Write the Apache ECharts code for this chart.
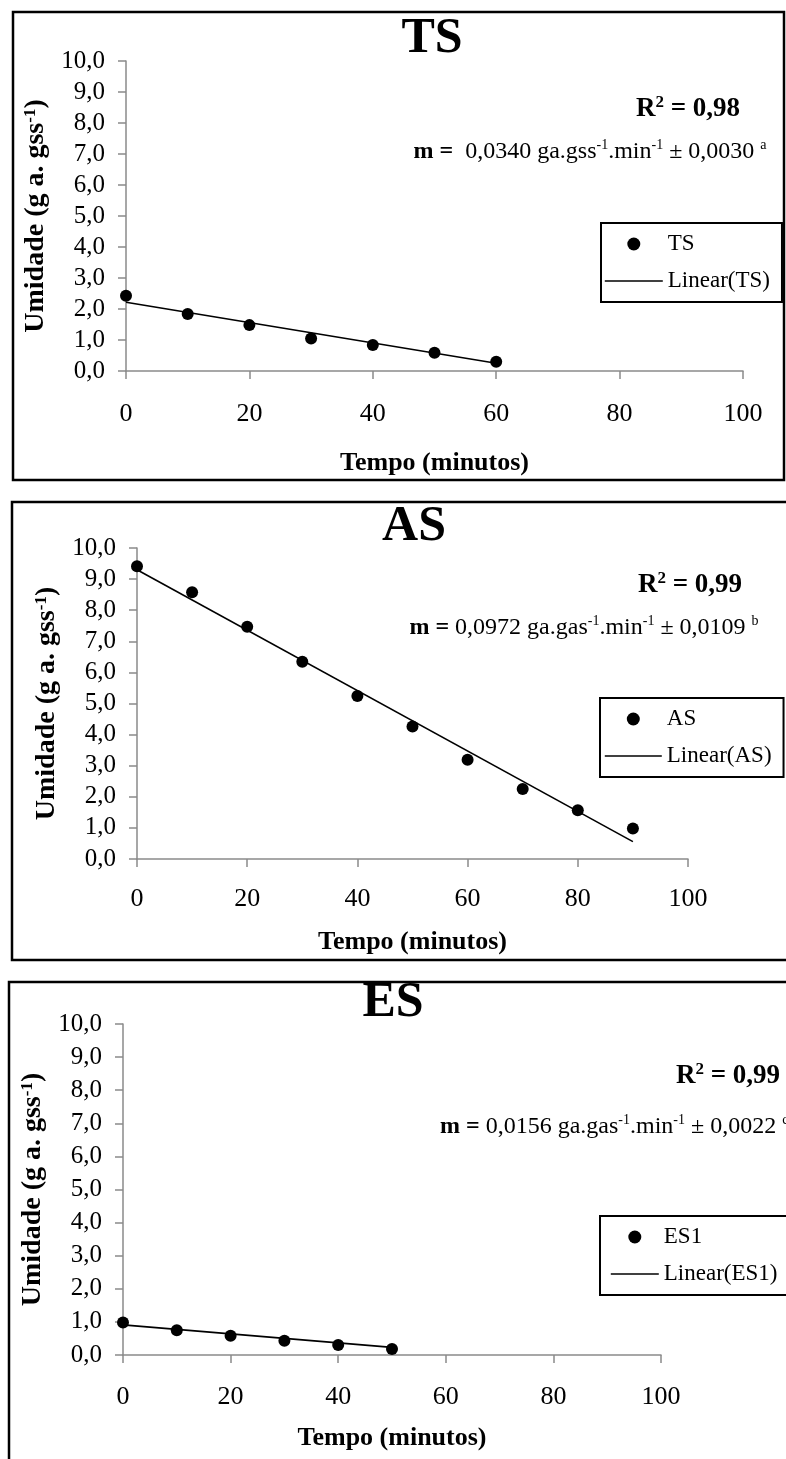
<!DOCTYPE html>
<html>
<head>
<meta charset="utf-8">
<script src="https://cdn.jsdelivr.net/npm/echarts@6/dist/echarts.min.js"></script>
<style>
html,body{margin:0;padding:0;background:#fff;}
#chart{width:786px;height:1459px;}
</style>
</head>
<body>
<div id="chart"></div>
<script>
// ---- data ----
const xTickValues = [0, 20, 40, 60, 80, 100];
const yTickLabels = ['0,0','1,0','2,0','3,0','4,0','5,0','6,0','7,0','8,0','9,0','10,0'];

const tsTime = [0, 10, 20, 30, 40, 50, 60];
const tsMoisture = [2.43, 1.84, 1.48, 1.05, 0.84, 0.59, 0.30];
const tsTrendTime = [0, 60];
const tsTrendValue = [2.22, 0.25];

const asTime = [0, 10, 20, 30, 40, 50, 60, 70, 80, 90];
const asMoisture = [9.41, 8.58, 7.47, 6.34, 5.24, 4.26, 3.19, 2.25, 1.57, 0.98];
const asTrendTime = [0, 90];
const asTrendValue = [9.30, 0.56];

const esTime = [0, 10, 20, 30, 40, 50];
const esMoisture = [0.98, 0.75, 0.58, 0.43, 0.30, 0.18];
const esTrendTime = [0, 50];
const esTrendValue = [0.91, 0.23];

const panelTitles = ['TS', 'AS', 'ES'];
const seriesNames = ['TS', 'AS', 'ES1'];
const trendNames = ['Linear(TS)', 'Linear(AS)', 'Linear(ES1)'];
const r2Texts = ['0,98', '0,99', '0,99'];
const slopeTexts = [
  { m: '0,0340', unit: 'gss', err: '0,0030', letter: 'a', gap: '  ' },
  { m: '0,0972', unit: 'gas', err: '0,0109', letter: 'b', gap: ' ' },
  { m: '0,0156', unit: 'gas', err: '0,0022', letter: 'c', gap: ' ' }
];
const xAxisName = 'Tempo (minutos)';

// ---- layout ----
const FONT = '"Liberation Serif", "Times New Roman", serif';
const AXIS_GRAY = '#8a8a8a';

const grids = [
  { left: 126, top: 61, width: 617, height: 310 },
  { left: 137, top: 548, width: 551, height: 311 },
  { left: 123, top: 1024, width: 538, height: 331 }
];
const xLabelMargin = [30, 27, 29];
const xNameGap = [79, 70, 70];
const frames = [
  { x: 13, y: 12, w: 771, h: 468 },
  { x: 12, y: 502, w: 820, h: 458 },
  { x: 9, y: 982, w: 820, h: 600 }
];
const titlePos = [[432, 39], [414, 527], [393, 1003]];
const r2Pos = [[688, 109], [690, 585], [728, 1076]];
const mPos = [[590, 152, 'center'], [584, 628, 'center'], [440, 1127, 'left']];
const legendPos = [
  { left: 601, top: 223, padL: 3, iw: 58 },
  { left: 600, top: 698, padL: 4, iw: 57 },
  { left: 600, top: 1216, padL: 10, iw: 48 }
];

const xs = [tsTime, asTime, esTime];
const ys = [tsMoisture, asMoisture, esMoisture];
const txs = [tsTrendTime, asTrendTime, esTrendTime];
const tys = [tsTrendValue, asTrendValue, esTrendValue];

const option = {
  backgroundColor: '#fff',
  animation: false,
  grid: grids.map(g => Object.assign({ containLabel: false }, g)),
  xAxis: grids.map((g, i) => ({
    gridIndex: i, type: 'value', min: 0, max: 100, interval: 20,
    axisLine: { show: true, lineStyle: { color: AXIS_GRAY, width: 1.5 } },
    axisTick: { show: true, length: 8, lineStyle: { color: AXIS_GRAY, width: 1.5 } },
    splitLine: { show: false },
    axisLabel: {
      color: '#000', fontFamily: FONT, fontSize: 26, margin: xLabelMargin[i],
      formatter: v => (xTickValues.indexOf(v) >= 0 ? String(v) : '')
    },
    name: xAxisName, nameLocation: 'middle', nameGap: xNameGap[i],
    nameTextStyle: { color: '#000', fontFamily: FONT, fontWeight: 'bold', fontSize: 26 }
  })),
  yAxis: grids.map((g, i) => ({
    gridIndex: i, type: 'value', min: 0, max: 10, interval: 1,
    axisLine: { show: true, lineStyle: { color: AXIS_GRAY, width: 1.5 } },
    axisTick: { show: true, length: 8, lineStyle: { color: AXIS_GRAY, width: 1.5 } },
    splitLine: { show: false },
    axisLabel: {
      color: '#000', fontFamily: FONT, fontSize: 25, margin: 21,
      formatter: v => yTickLabels[Math.round(v)]
    },
    name: 'Umidade (g a. gss{sup|-1})', nameLocation: 'middle', nameGap: 76,
    nameTextStyle: {
      color: '#000', fontFamily: FONT, fontWeight: 'bold', fontSize: 28, lineHeight: 28,
      rich: { sup: { color: '#000', fontFamily: FONT, fontWeight: 'bold', fontSize: 17, lineHeight: 17, verticalAlign: 'top' } }
    }
  })),
  legend: legendPos.map((p, i) => ({
    data: [
      { name: seriesNames[i], icon: 'circle', itemStyle: { color: '#000', opacity: 1 } },
      { name: trendNames[i], itemStyle: { opacity: 0 }, lineStyle: { color: '#000', width: 1.6, opacity: 1 } }
    ],
    orient: 'vertical', left: p.left, top: p.top,
    itemWidth: p.iw, itemHeight: 13, itemGap: 13,
    padding: [9, 12, 9, p.padL],
    borderColor: '#000', borderWidth: 2, backgroundColor: '#fff',
    selectedMode: false,
    textStyle: { color: '#000', fontFamily: FONT, fontSize: 23, lineHeight: 24 }
  })),
  series: [],
  graphic: []
};

for (let i = 0; i < 3; i++) {
  option.series.push({
    name: seriesNames[i], type: 'scatter', xAxisIndex: i, yAxisIndex: i,
    symbol: 'circle', symbolSize: 12, itemStyle: { color: '#000', opacity: 1 },
    data: xs[i].map((x, k) => [x, ys[i][k]]), z: 3
  });
  option.series.push({
    name: trendNames[i], type: 'line', xAxisIndex: i, yAxisIndex: i,
    symbol: 'none', showSymbol: false, lineStyle: { color: '#000', width: 1.6 },
    itemStyle: { color: '#000' },
    data: txs[i].map((x, k) => [x, tys[i][k]]), z: 4
  });
}

const g = option.graphic;
frames.forEach(f => g.push({
  type: 'rect', silent: true, z: 0,
  shape: { x: f.x, y: f.y, width: f.w, height: f.h },
  style: { fill: 'none', stroke: '#000', lineWidth: 2.5 }
}));
for (let i = 0; i < 3; i++) {
  g.push({
    type: 'text', silent: true, x: titlePos[i][0], y: titlePos[i][1],
    style: { text: panelTitles[i], fill: '#000', font: 'bold 50px ' + FONT, textAlign: 'center', textVerticalAlign: 'middle' }
  });
  g.push({
    type: 'text', silent: true, x: r2Pos[i][0], y: r2Pos[i][1],
    style: {
      text: '{b|R}{s|2}{b| = ' + r2Texts[i] + '}', textAlign: 'center', textVerticalAlign: 'middle',
      rich: {
        b: { fill: '#000', fontFamily: FONT, fontWeight: 'bold', fontSize: 27, lineHeight: 30 },
        s: { fill: '#000', fontFamily: FONT, fontWeight: 'bold', fontSize: 17, lineHeight: 17, verticalAlign: 'top' }
      }
    }
  });
  const st = slopeTexts[i];
  g.push({
    type: 'text', silent: true, x: mPos[i][0], y: mPos[i][1],
    style: {
      text: '{b|m =}{n|' + st.gap + st.m + ' ga.' + st.unit + '}{s|-1}{n|.min}{s|-1}{n| \u00b1 ' + st.err + ' }{s|' + st.letter + '}',
      textAlign: mPos[i][2], textVerticalAlign: 'middle',
      rich: {
        b: { fill: '#000', fontFamily: FONT, fontWeight: 'bold', fontSize: 24, lineHeight: 27 },
        n: { fill: '#000', fontFamily: FONT, fontSize: 24, lineHeight: 27 },
        s: { fill: '#000', fontFamily: FONT, fontSize: 14, lineHeight: 14, verticalAlign: 'top' }
      }
    }
  });
}

const chart = echarts.init(document.getElementById('chart'), null, { renderer: 'canvas' });
chart.setOption(option);
</script>
</body>
</html>
